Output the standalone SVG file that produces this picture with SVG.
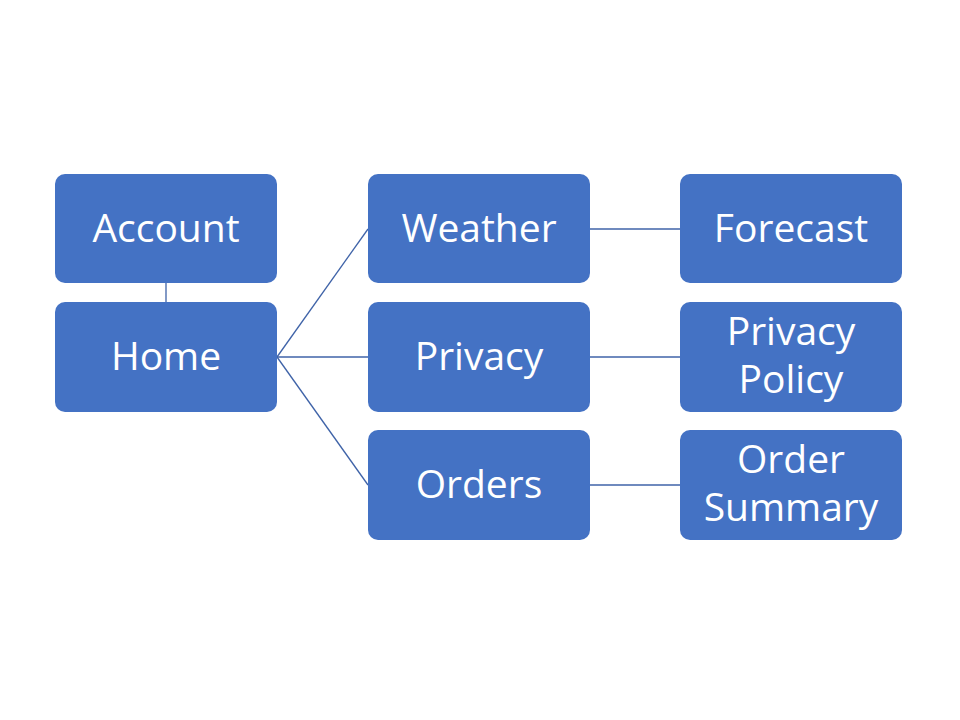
<svg xmlns="http://www.w3.org/2000/svg" width="960" height="720" viewBox="0 0 960 720">
<style>
.node rect{fill:#4472C4;}
.node text{fill:#fff;font-family:"Open Sans","Liberation Sans",sans-serif;font-size:39px;text-anchor:middle;}
.conn line{stroke:#3F63A8;stroke-width:1.3;}
</style>
<rect width="960" height="720" fill="#fff"/>
<g id="connectors" class="conn">
<line x1="166" y1="283" x2="166" y2="302"/>
<line x1="277" y1="357" x2="368" y2="229"/>
<line x1="277" y1="357" x2="368" y2="357"/>
<line x1="277" y1="357" x2="368" y2="485"/>
<line x1="590" y1="229" x2="680" y2="229"/>
<line x1="590" y1="357" x2="680" y2="357"/>
<line x1="590" y1="485" x2="680" y2="485"/>
</g>
<g id="account" class="node"><rect x="55" y="174" width="222" height="109" rx="10"/><text x="166" y="242">Account</text></g>
<g id="home" class="node"><rect x="55" y="302" width="222" height="110" rx="10"/><text x="166" y="370">Home</text></g>
<g id="weather" class="node"><rect x="368" y="174" width="222" height="109" rx="10"/><text x="479" y="242">Weather</text></g>
<g id="privacy" class="node"><rect x="368" y="302" width="222" height="110" rx="10"/><text x="479" y="370">Privacy</text></g>
<g id="orders" class="node"><rect x="368" y="430" width="222" height="110" rx="10"/><text x="479" y="498">Orders</text></g>
<g id="forecast" class="node"><rect x="680" y="174" width="222" height="109" rx="10"/><text x="791" y="242">Forecast</text></g>
<g id="privacy-policy" class="node"><rect x="680" y="302" width="222" height="110" rx="10"/><text x="791" y="345">Privacy</text><text x="791" y="393">Policy</text></g>
<g id="order-summary" class="node"><rect x="680" y="430" width="222" height="110" rx="10"/><text x="791" y="473">Order</text><text x="791" y="521">Summary</text></g>
</svg>
